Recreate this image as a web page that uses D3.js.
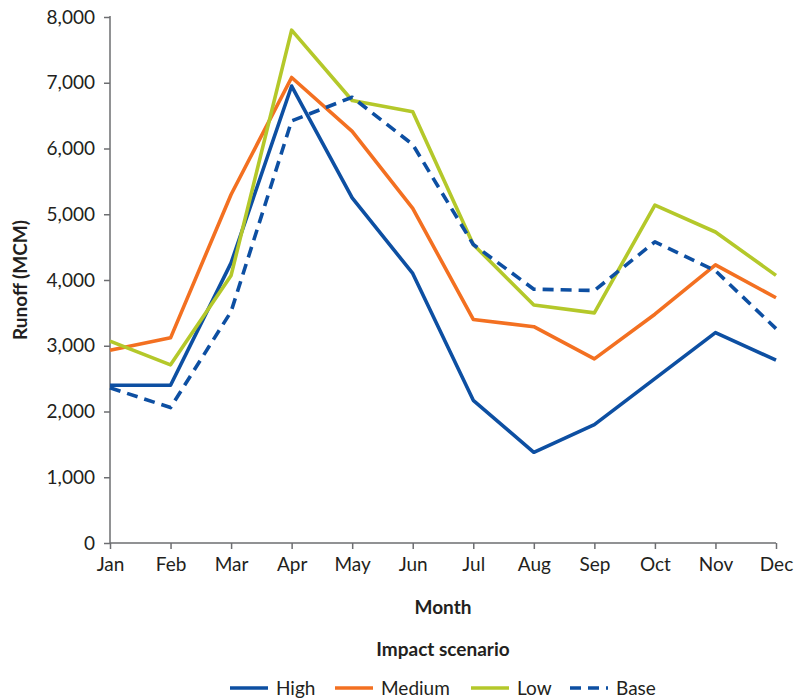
<!DOCTYPE html>
<html><head><meta charset="utf-8">
<script src="https://cdn.jsdelivr.net/npm/d3@7"></script>
<style>
body{margin:0;background:#fff;}
text{font-family:Lato,"Open Sans",sans-serif;fill:#231f20;}
</style></head>
<body><svg id="c" width="796" height="700"></svg>
<script>
const months = ["Jan","Feb","Mar","Apr","May","Jun","Jul","Aug","Sep","Oct","Nov","Dec"];
const high   = [2400, 2400, 4260, 6950, 5250, 4100, 2170, 1380, 1800, 2500, 3200, 2780];
const medium = [2930, 3120, 5300, 7080, 6260, 5090, 3400, 3290, 2800, 3480, 4230, 3730];
const low    = [3070, 2710, 4070, 7800, 6730, 6560, 4540, 3620, 3500, 5140, 4730, 4070];
const base   = [2360, 2060, 3520, 6420, 6780, 6060, 4540, 3860, 3840, 4580, 4140, 3260];
const yTicks = [0,1000,2000,3000,4000,5000,6000,7000,8000];
const seriesNames = ["High","Medium","Low","Base"];

const colors = {High:"#0d4fa2", Medium:"#f37021", Low:"#b4c82a", Base:"#0d4fa2"};
const series = [
  {name:"High", values:high},
  {name:"Medium", values:medium},
  {name:"Low", values:low},
  {name:"Base", values:base, dashed:true}
];

const svg = d3.select("#c");
const L=110, R=776, T=17, B=543;
const x = d3.scalePoint().domain(months).range([L,R]);
const y = d3.scaleLinear().domain([0,8000]).range([B,T]);
const axisColor="#6d6e71";
const FS="19px";

// y axis
const ya = svg.append("g").attr("transform",`translate(${L},0)`)
  .call(d3.axisLeft(y).tickValues(yTicks).tickSize(6).tickPadding(9).tickFormat(d3.format(",")));
ya.selectAll("text").style("font-size",FS).attr("fill","#231f20");
ya.selectAll("line,path").attr("stroke",axisColor).attr("stroke-width",1.5);
ya.select("path").attr("d",`M0,${B}V${T-1}`);

// x axis
const xa = svg.append("g").attr("transform",`translate(0,${B})`)
  .call(d3.axisBottom(x).tickSize(6).tickPadding(8.5));
xa.selectAll("text").style("font-size",FS).attr("fill","#231f20");
xa.selectAll("line,path").attr("stroke",axisColor).attr("stroke-width",1.5);
xa.select("path").attr("d",`M${L},0H${R}`);

// lines
const line = d3.line().x((d,i)=>x(months[i])).y(d=>y(d));
svg.append("g").selectAll("path").data(series).join("path")
  .attr("d",d=>line(d.values))
  .attr("fill","none")
  .attr("stroke",d=>colors[d.name])
  .attr("stroke-width",3.6)
  .attr("stroke-linejoin","round")
  .attr("stroke-dasharray",d=>d.dashed?"11,7":null);

// axis titles
svg.append("text").attr("transform","translate(27,280) rotate(-90)")
  .attr("text-anchor","middle").style("font-size",FS).style("font-weight","bold").text("Runoff (MCM)");
svg.append("text").attr("x",443).attr("y",614)
  .attr("text-anchor","middle").style("font-size",FS).style("font-weight","bold").text("Month");
svg.append("text").attr("x",443).attr("y",656)
  .attr("text-anchor","middle").style("font-size",FS).style("font-weight","bold").text("Impact scenario");

// legend
const legX = [230,335,471,570];
const lg = svg.append("g").selectAll("g").data(series).join("g")
  .attr("transform",(d,i)=>`translate(${legX[i]},688)`);
lg.append("line").attr("x1",0).attr("x2",38).attr("y1",0).attr("y2",0)
  .attr("stroke",d=>colors[d.name]).attr("stroke-width",3.6)
  .attr("stroke-dasharray",d=>d.dashed?"11,7":null);
lg.append("text").attr("x",46).attr("y",7).style("font-size",FS).text((d,i)=>seriesNames[i]);
</script></body></html>
